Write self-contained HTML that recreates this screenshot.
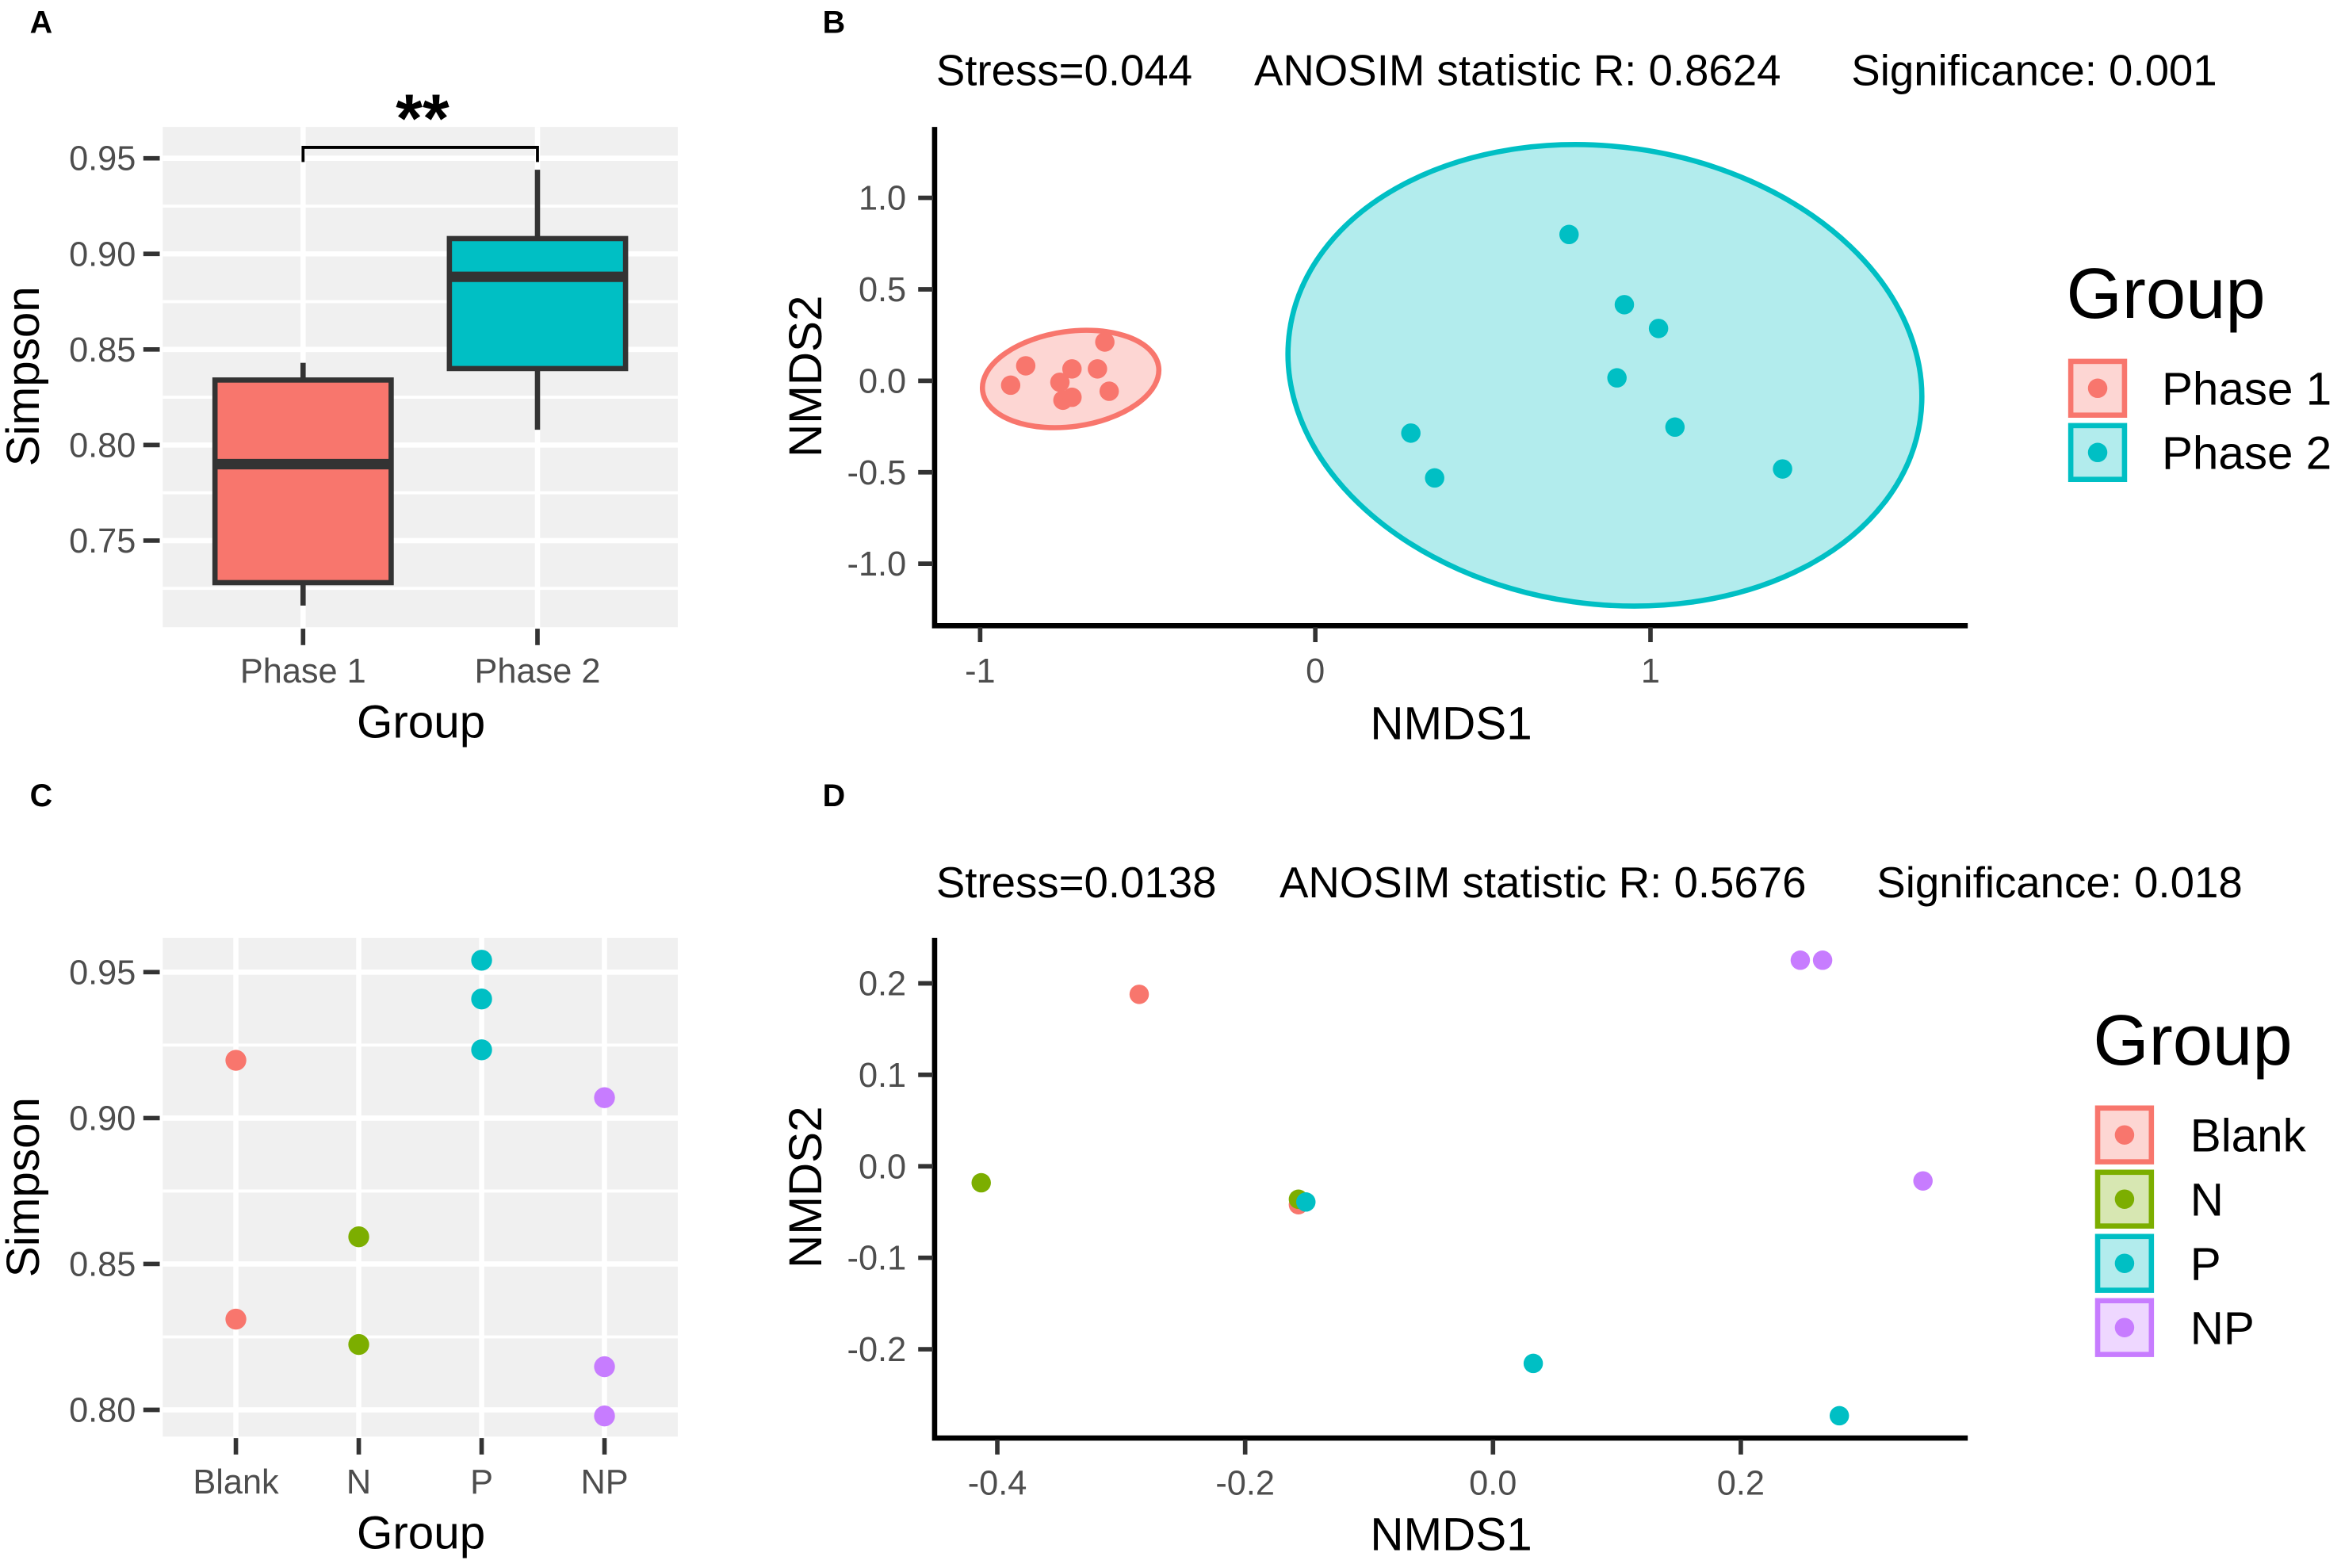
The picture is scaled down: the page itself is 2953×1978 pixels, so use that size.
<!DOCTYPE html>
<html><head><meta charset="utf-8">
<style>
html,body{margin:0;padding:0;background:#fff;}
svg{display:block;font-family:"Liberation Sans",Arial,sans-serif;}
</style></head>
<body>
<svg id="fig" width="2953" height="1978" viewBox="0 0 1568 1050" preserveAspectRatio="none" xmlns="http://www.w3.org/2000/svg">
<g id="gA"></g>
<g id="gB"></g>
<g id="gC"></g>
<g id="gD"></g>
</svg>
<script>
// ---- Panel A data ----
const aGroups = ["Phase 1", "Phase 2"];
const aQ1 = [0.728, 0.840];
const aMed = [0.790, 0.888];
const aQ3 = [0.834, 0.908];
const aLo = [0.716, 0.808];
const aHi = [0.843, 0.944];
const aTicks = [0.75, 0.80, 0.85, 0.90, 0.95];
// ---- Panel B data ----
const bGroups = ["Phase 1", "Phase 2"];
const bX1 = [-0.628, -0.864, -0.909, -0.726, -0.650, -0.762, -0.615, -0.753, -0.726];
const bY1 = [0.212, 0.082, -0.024, 0.065, 0.065, -0.008, -0.057, -0.106, -0.090];
const bX2 = [0.757, 0.922, 1.024, 0.900, 1.073, 0.285, 0.356, 1.394];
const bY2 = [0.800, 0.416, 0.286, 0.016, -0.253, -0.286, -0.531, -0.482];
const bEllCx = [-0.73, 0.864];
const bEllCy = [0.01, 0.03];
const bEllRx = [0.265, 0.95];
const bEllRy = [0.26, 1.25];
const bXTicks = [-1, 0, 1];
const bYTicks = [1.0, 0.5, 0.0, -0.5, -1.0];
const bYTickLabels = ["1.0", "0.5", "0.0", "-0.5", "-1.0"];
// ---- Panel C data ----
const cGroups = ["Blank", "N", "P", "NP"];
const cBlank = [0.9198, 0.8311];
const cN = [0.8593, 0.8224];
const cP = [0.9541, 0.9408, 0.9234];
const cNP = [0.907, 0.8148, 0.7979];
const cTicks = [0.80, 0.85, 0.90, 0.95];
// ---- Panel D data ----
const dGroups = ["Blank", "N", "P", "NP"];
const dXBlank = [-0.2855, -0.157], dYBlank = [0.188, -0.042];
const dXN = [-0.413, -0.157], dYN = [-0.018, -0.036];
const dXP = [-0.151, 0.0325, 0.2795], dYP = [-0.039, -0.2155, -0.2727];
const dXNP = [0.248, 0.266, 0.347], dYNP = [0.2253, 0.2253, -0.016];
const dXTicks = [-0.4, -0.2, 0.0, 0.2];
const dYTicks = [0.2, 0.1, 0.0, -0.1, -0.2];

const COLS = {"Phase 1":"#F8766D","Phase 2":"#00BFC4","Blank":"#F8766D","N":"#7CAE00","P":"#00BFC4","NP":"#C77CFF"};
const BG = "#F0F0F0";
const TICKFS = 23, TITLEFS = 31, SUBFS = 29, LEGT = 48, LEGL = 31;
const NS = "http://www.w3.org/2000/svg";
function mk(parent, tag, attrs, text){
  const e = document.createElementNS(NS, tag);
  for (const k in attrs) e.setAttribute(k, attrs[k]);
  if (text !== undefined) e.textContent = text;
  parent.appendChild(e);
  return e;
}
function txt(p, x, y, s, size, opts){
  opts = opts || {};
  const t = mk(p, "text", {x:x, y:y, "font-size":size, fill:opts.fill||"#000", "text-anchor":opts.anchor||"start", "font-weight":opts.weight||"normal"}, s);
  if (opts.rot) t.setAttribute("transform", "rotate(-90 "+x+" "+y+")");
  return t;
}

// ================= Panel A =================
(function(){
  const g = document.getElementById("gA");
  const L=109,R=454,T=85,B=420;
  const y = v => 106 + (0.95 - v) / 0.05 * 64;
  const x = i => [203, 360][i];
  const bg = mk(g,"rect",{x:L,y:T,width:R-L,height:B-T,fill:BG});
  
  
  for (let i=0;i<aTicks.length;i++){
    const yy=y(aTicks[i]);
    mk(g,"line",{x1:L,x2:R,y1:yy,y2:yy,stroke:"#fff","stroke-width":3.5});
    const ym=y(aTicks[i]+0.025);
    if (ym>T && ym<B) mk(g,"line",{x1:L,x2:R,y1:ym,y2:ym,stroke:"#fff","stroke-width":2});
    const ym2=y(aTicks[i]-0.025);
    if (i===0 && ym2<B) mk(g,"line",{x1:L,x2:R,y1:ym2,y2:ym2,stroke:"#fff","stroke-width":2});
    mk(g,"line",{x1:96,x2:107,y1:yy,y2:yy,stroke:"#333","stroke-width":3});
    const t=txt(g,91,yy+8,aTicks[i].toFixed(2),TICKFS,{anchor:"end",fill:"#4D4D4D"});
    
    
  }
  for (let i=0;i<aGroups.length;i++){
    const xx=x(i);
    mk(g,"line",{x1:xx,x2:xx,y1:T,y2:B,stroke:"#fff","stroke-width":3.5});
    mk(g,"line",{x1:xx,x2:xx,y1:421,y2:432,stroke:"#333","stroke-width":3});
    const t=txt(g,xx,457,aGroups[i],TICKFS,{anchor:"middle",fill:"#4D4D4D"});
    
    
    const bx = mk(g,"g",{});
    
    
    mk(bx,"line",{x1:xx,x2:xx,y1:y(aHi[i]),y2:y(aQ3[i]),stroke:"#333","stroke-width":3.5});
    mk(bx,"line",{x1:xx,x2:xx,y1:y(aQ1[i]),y2:y(aLo[i]),stroke:"#333","stroke-width":3.5});
    mk(bx,"rect",{x:xx-59,y:y(aQ3[i]),width:118,height:y(aQ1[i])-y(aQ3[i]),fill:COLS[aGroups[i]],stroke:"#333","stroke-width":3.5});
    mk(bx,"line",{x1:xx-59,x2:xx+59,y1:y(aMed[i]),y2:y(aMed[i]),stroke:"#333","stroke-width":7});
  }
  const br=mk(g,"path",{d:"M203 108.5 V98.7 H360 V108.5",fill:"none",stroke:"#000","stroke-width":2});
  
  
  const st=txt(g,283,95,"**",46,{anchor:"middle",weight:"bold"});
  
  
  const xt=txt(g,282,494,"Group",TITLEFS,{anchor:"middle"});
  
  
  const yt=txt(g,26,252,"Simpson",TITLEFS,{anchor:"middle",rot:true});
  
  
  const pl=txt(g,20,22,"A",21,{weight:"bold"});
  
  
})();

// ================= Panel B =================
(function(){
  const g = document.getElementById("gB");
  const x = v => 881 + v*224.5;
  const y = v => 255 - v*122.5;
  const sx=224.5, sy=122.5;
  for (let i=0;i<bGroups.length;i++){
    const e=mk(g,"ellipse",{cx:x(bEllCx[i]),cy:y(bEllCy[i]),rx:bEllRx[i]*sx,ry:bEllRy[i]*sy,fill:COLS[bGroups[i]],"fill-opacity":0.3,stroke:COLS[bGroups[i]],"stroke-width":3.5,transform:"rotate("+(i===0?-8:8)+" "+x(bEllCx[i])+" "+y(bEllCy[i])+")"});
    
    
  }
  for (let i=0;i<bX1.length;i++){
    const c=mk(g,"circle",{cx:x(bX1[i]),cy:y(bY1[i]),r:6.5,fill:COLS["Phase 1"]});
    
    
  }
  for (let i=0;i<bX2.length;i++){
    const c=mk(g,"circle",{cx:x(bX2[i]),cy:y(bY2[i]),r:6.5,fill:COLS["Phase 2"]});
    
    
  }
  const ax=mk(g,"path",{d:"M626 85 V419 H1318",fill:"none",stroke:"#000","stroke-width":3.5});
  
  
  for (let i=0;i<bYTicks.length;i++){
    const yy=y(bYTicks[i]);
    mk(g,"line",{x1:615,x2:625,y1:yy,y2:yy,stroke:"#333","stroke-width":3});
    const t=txt(g,607,yy+8,bYTickLabels[i],TICKFS,{anchor:"end",fill:"#4D4D4D"});
    
    
  }
  for (let i=0;i<bXTicks.length;i++){
    const xx=x(bXTicks[i]);
    mk(g,"line",{x1:xx,x2:xx,y1:420,y2:430,stroke:"#333","stroke-width":3});
    const t=txt(g,xx,457,String(bXTicks[i]),TICKFS,{anchor:"middle",fill:"#4D4D4D"});
    
    
  }
  const t1=txt(g,627,57,"Stress=0.044",SUBFS);
   
  const t2=txt(g,840,57,"ANOSIM statistic R: 0.8624",SUBFS);
   
  const t3=txt(g,1240,57,"Significance: 0.001",SUBFS);
   
  const xt=txt(g,972,495,"NMDS1",TITLEFS,{anchor:"middle"});
   
  const yt=txt(g,550,252,"NMDS2",TITLEFS,{anchor:"middle",rot:true});
   
  const lt=txt(g,1384,213,"Group",LEGT);
   
  for (let i=0;i<bGroups.length;i++){
    const le=mk(g,"g",{});
    
    
    const yy=241+i*43;
    mk(le,"rect",{x:1387,y:yy+1,width:36,height:36,fill:COLS[bGroups[i]],"fill-opacity":0.3,stroke:COLS[bGroups[i]],"stroke-width":3.5});
    mk(le,"circle",{cx:1405,cy:yy+19,r:6.5,fill:COLS[bGroups[i]]});
    txt(le,1448,yy+30,bGroups[i],LEGL);
  }
  const pl=txt(g,551,22,"B",21,{weight:"bold"});
   
})();

// ================= Panel C =================
(function(){
  const g = document.getElementById("gC");
  const L=109,R=454,T=628,B=962;
  const y = v => 651 + (0.95 - v)/0.05*97.7;
  const x = i => 158 + i*82.3;
  const bg=mk(g,"rect",{x:L,y:T,width:R-L,height:B-T,fill:BG});
   
  for (let i=0;i<cTicks.length;i++){
    const yy=y(cTicks[i]);
    mk(g,"line",{x1:L,x2:R,y1:yy,y2:yy,stroke:"#fff","stroke-width":3.5});
    const ym=y(cTicks[i]+0.025);
    if (ym>T) mk(g,"line",{x1:L,x2:R,y1:ym,y2:ym,stroke:"#fff","stroke-width":2});
    mk(g,"line",{x1:96,x2:107,y1:yy,y2:yy,stroke:"#333","stroke-width":3});
    const t=txt(g,91,yy+8,cTicks[i].toFixed(2),TICKFS,{anchor:"end",fill:"#4D4D4D"});
     
  }
  const series=[cBlank,cN,cP,cNP];
  for (let i=0;i<cGroups.length;i++){
    const xx=x(i);
    mk(g,"line",{x1:xx,x2:xx,y1:T,y2:B,stroke:"#fff","stroke-width":3.5});
    mk(g,"line",{x1:xx,x2:xx,y1:963,y2:974,stroke:"#333","stroke-width":3});
    const t=txt(g,xx,1000,cGroups[i],TICKFS,{anchor:"middle",fill:"#4D4D4D"});
     
  }
  for (let i=0;i<cGroups.length;i++){
    for (let j=0;j<series[i].length;j++){
      const c=mk(g,"circle",{cx:x(i),cy:y(series[i][j]),r:7,fill:COLS[cGroups[i]]});
      
      
    }
  }
  const xt=txt(g,282,1037,"Group",TITLEFS,{anchor:"middle"});
   
  const yt=txt(g,26,795,"Simpson",TITLEFS,{anchor:"middle",rot:true});
   
  const pl=txt(g,20,540,"C",21,{weight:"bold"});
   
})();

// ================= Panel D =================
(function(){
  const g = document.getElementById("gD");
  const x = v => 1000 + v*830;
  const y = v => 781 - v*612.5;
  const xs=[dXBlank,dXN,dXP,dXNP], ys=[dYBlank,dYN,dYP,dYNP];
  for (let i=0;i<dGroups.length;i++){
    for (let j=0;j<xs[i].length;j++){
      const c=mk(g,"circle",{cx:x(xs[i][j]),cy:y(ys[i][j]),r:6.5,fill:COLS[dGroups[i]]});
      
      
    }
  }
  const ax=mk(g,"path",{d:"M626 628 V963 H1318",fill:"none",stroke:"#000","stroke-width":3.5});
   
  for (let i=0;i<dYTicks.length;i++){
    const yy=y(dYTicks[i]);
    mk(g,"line",{x1:615,x2:625,y1:yy,y2:yy,stroke:"#333","stroke-width":3});
    const t=txt(g,607,yy+8,dYTicks[i].toFixed(1),TICKFS,{anchor:"end",fill:"#4D4D4D"});
     
  }
  for (let i=0;i<dXTicks.length;i++){
    const xx=x(dXTicks[i]);
    mk(g,"line",{x1:xx,x2:xx,y1:964,y2:974,stroke:"#333","stroke-width":3});
    const t=txt(g,xx,1001,dXTicks[i].toFixed(1),TICKFS,{anchor:"middle",fill:"#4D4D4D"});
     
  }
  const t1=txt(g,627,601,"Stress=0.0138",SUBFS);
   
  const t2=txt(g,857,601,"ANOSIM statistic R: 0.5676",SUBFS);
   
  const t3=txt(g,1257,601,"Significance: 0.018",SUBFS);
   
  const xt=txt(g,972,1038,"NMDS1",TITLEFS,{anchor:"middle"});
   
  const yt=txt(g,550,795,"NMDS2",TITLEFS,{anchor:"middle",rot:true});
   
  const lt=txt(g,1402,713,"Group",LEGT);
   
  for (let i=0;i<dGroups.length;i++){
    const le=mk(g,"g",{});
    
    
    const yy=741+i*43;
    mk(le,"rect",{x:1405,y:yy+1,width:36,height:36,fill:COLS[dGroups[i]],"fill-opacity":0.3,stroke:COLS[dGroups[i]],"stroke-width":3.5});
    mk(le,"circle",{cx:1423,cy:yy+19,r:6.5,fill:COLS[dGroups[i]]});
    txt(le,1467,yy+30,dGroups[i],LEGL);
  }
  const pl=txt(g,551,540,"D",21,{weight:"bold"});
   
})();
</script>
</body></html>
